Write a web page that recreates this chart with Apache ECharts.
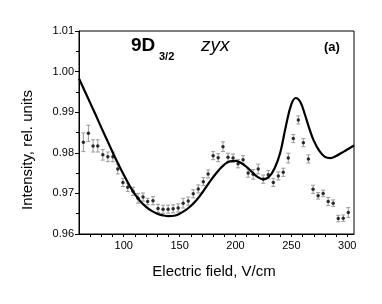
<!DOCTYPE html>
<html><head><meta charset="utf-8">
<script src="https://cdn.jsdelivr.net/npm/echarts@6/dist/echarts.min.js"></script>
<style>html,body{margin:0;padding:0;background:#fff}#c{width:382px;height:304px}</style>
</head><body><div id="c"></div>
<script>
const curveX = [60,65,70,75,80,85,90,95,100,105,110,115,120,125,130,135,140,145,150,155,160,165,170,175,180,185,190,195,200,205,210,215,220,225,230,235,240,245,250,254,258,262,266,270,275,280,285,290,295,300,306];
const curveY = [0.9983,0.9953,0.9923,0.9893,0.9862,0.9832,0.9802,0.9773,0.9746,0.9720,0.9698,0.9680,0.9667,0.9657,0.9650,0.9646,0.9644,0.9645,0.9650,0.9658,0.9669,0.9683,0.9701,0.9721,0.9740,0.9757,0.9771,0.9779,0.9780,0.9775,0.9765,0.9752,0.9740,0.9735,0.9741,0.9762,0.9800,0.9865,0.9920,0.9935,0.9925,0.9895,0.9860,0.9830,0.9805,0.9790,0.9787,0.9792,0.9800,0.9808,0.9818];
const pointX = [63.9,68.4,72.6,76.8,81.3,85.8,90.3,94.7,99.3,103.6,108.3,112.8,117.3,121.4,126.2,130.7,135.2,139.7,144.2,148.7,153.2,157.7,162.2,166.7,171.2,175.5,180.0,184.5,188.8,193.3,197.8,202.3,206.8,211.3,215.8,220.3,224.8,229.3,233.8,238.3,242.7,247.2,251.7,256.2,260.7,265.2,269.4,273.9,278.4,282.9,287.4,291.9,296.4,300.9];
const pointY = [0.9826,0.9848,0.9817,0.9817,0.9795,0.9790,0.9790,0.9760,0.9727,0.9715,0.9705,0.9688,0.9691,0.9680,0.9682,0.9663,0.9661,0.9661,0.9662,0.9664,0.9676,0.9681,0.9699,0.9711,0.9729,0.9748,0.9793,0.9788,0.9815,0.9789,0.9787,0.9773,0.9783,0.9750,0.9747,0.9760,0.9735,0.9746,0.9727,0.9743,0.9752,0.9787,0.9835,0.9881,0.9825,0.9785,0.9710,0.9694,0.9700,0.9680,0.9676,0.9638,0.9639,0.9653];
const pointErr = [0.0023,0.0020,0.0015,0.0015,0.0013,0.0012,0.0012,0.0012,0.0010,0.0010,0.0010,0.0012,0.0010,0.0008,0.0010,0.0010,0.0010,0.0010,0.0010,0.0010,0.0012,0.0010,0.0010,0.0010,0.0010,0.0010,0.0010,0.0010,0.0012,0.0010,0.0010,0.0010,0.0010,0.0010,0.0012,0.0012,0.0010,0.0010,0.0010,0.0010,0.0010,0.0012,0.0010,0.0010,0.0010,0.0010,0.0010,0.0008,0.0008,0.0010,0.0008,0.0008,0.0008,0.0012];
const xTickLabels = [100,150,200,250,300];
const yTickLabels = ['0.96','0.97','0.98','0.99','1.00','1.01'];

const chart = echarts.init(document.getElementById('c'), null, {renderer:'canvas'});
const FONT = 'Liberation Sans, Arial, sans-serif';
const lineData = curveX.map((x,i)=>[x,curveY[i]]);
const ptData = pointX.map((x,i)=>[x,pointY[i],pointErr[i]]);
chart.setOption({
  animation:false,
  grid:{left:79,right:28,top:31,bottom:70,show:true,borderColor:'#000',borderWidth:1,backgroundColor:'transparent'},
  xAxis:{type:'value',min:60,max:306,interval:10,
    axisLine:{onZero:false,lineStyle:{color:'#000',width:1}},
    axisTick:{show:true,inside:false,length:3,lineStyle:{color:'#000'}},
    splitLine:{show:false},
    axisLabel:{color:'#000',fontFamily:FONT,fontSize:11,margin:6,showMinLabel:false,showMaxLabel:false,
      formatter:v=>xTickLabels.indexOf(Math.round(v))>=0?String(Math.round(v)):''}},
  yAxis:{type:'value',min:0.96,max:1.01,interval:0.01,
    axisLine:{show:true,onZero:false,lineStyle:{color:'#000',width:1}},
    axisTick:{show:true,inside:false,length:4,lineStyle:{color:'#000'}},
    minorTick:{show:true,splitNumber:2,length:3,lineStyle:{color:'#000'}},
    splitLine:{show:false},
    axisLabel:{color:'#000',fontFamily:FONT,fontSize:11,margin:5,
      formatter:v=>{const s=v.toFixed(2);return yTickLabels.indexOf(s)>=0?s:'';}}},
  series:[
    {type:'custom',data:ptData,z:2,
      renderItem:function(params,api){
        const x=api.value(0),y=api.value(1),e=api.value(2);
        const t=api.coord([x,y+e]),b=api.coord([x,y-e]);
        const st={stroke:'#999',lineWidth:1};
        return {type:'group',children:[
          {type:'line',shape:{x1:t[0],y1:t[1],x2:b[0],y2:b[1]},style:st},
          {type:'line',shape:{x1:t[0]-2,y1:t[1],x2:t[0]+2,y2:t[1]},style:st},
          {type:'line',shape:{x1:b[0]-2,y1:b[1],x2:b[0]+2,y2:b[1]},style:st}
        ]};
      }},
    {type:'scatter',data:ptData.map(d=>[d[0],d[1]]),symbol:'circle',symbolSize:3.5,itemStyle:{color:'#000'},z:3},
    {type:'line',data:lineData,smooth:0.4,showSymbol:false,symbol:'none',lineStyle:{color:'#000',width:2.2},z:4}
  ],
  graphic:[
    {type:'text',x:131,y:46,style:{text:'9D',font:'bold 19px '+FONT,fill:'#000',textVerticalAlign:'middle'}},
    {type:'text',x:159,y:57,style:{text:'3/2',font:'bold 11px '+FONT,fill:'#000',textVerticalAlign:'middle'}},
    {type:'text',x:201,y:46,style:{text:'zyx',font:'italic 19px '+FONT,fill:'#000',textVerticalAlign:'middle'}},
    {type:'text',x:324,y:47,style:{text:'(a)',font:'bold 13px '+FONT,fill:'#000',textVerticalAlign:'middle'}},
    {type:'text',x:28,y:150,rotation:Math.PI/2,style:{text:'Intensity, rel. units',font:'15px '+FONT,fill:'#000',textAlign:'center',textVerticalAlign:'middle'}},
    {type:'text',x:214,y:272,style:{text:'Electric field, V/cm',font:'15px '+FONT,fill:'#000',textAlign:'center',textVerticalAlign:'middle'}}
  ]
});
</script></body></html>
